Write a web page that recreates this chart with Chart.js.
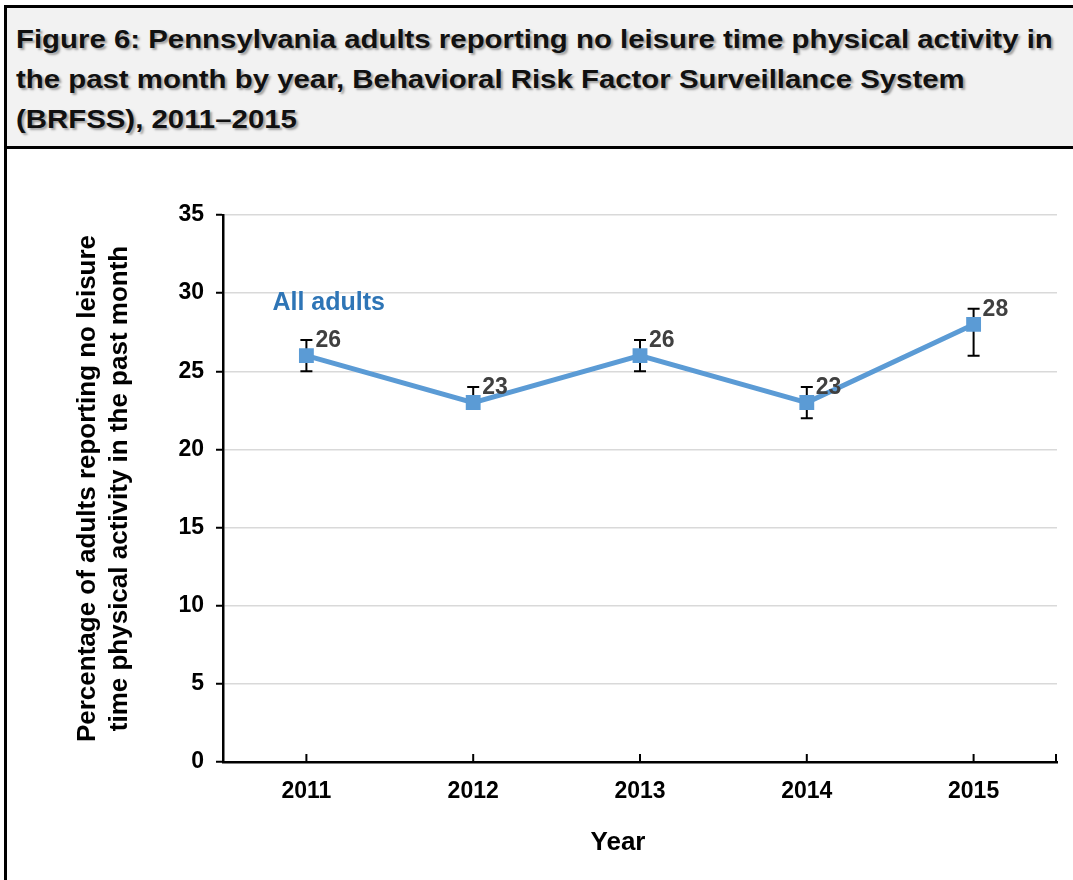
<!DOCTYPE html>
<html>
<head>
<meta charset="utf-8">
<script src="https://cdn.jsdelivr.net/npm/chart.js@4"></script>
<style>
  html, body { margin: 0; padding: 0; background: #fff; overflow: hidden; width: 1073px; height: 880px; }
  #titlebox {
    position: absolute; left: 4px; top: 5px; width: 1100px; height: 144px;
    background: #f2f2f2; border: 3px solid #000; box-sizing: border-box;
    padding: 11px 0 0 9px;
    font-family: "Liberation Sans", Arial, sans-serif; font-weight: bold; font-size: 26px;
    line-height: 40px; color: #111;
    text-shadow: 2px 2px 2px #a0a0a0;
  }
  #titlebox span { display: inline-block; transform: scaleX(1.13); transform-origin: 0 0; white-space: nowrap; }
  #frame { position: absolute; left: 4px; top: 147px; width: 3px; height: 740px; background: #000; }
  #wrap { position: absolute; left: 10px; top: 150px; width: 1063px; height: 730px; }
</style>
</head>
<body>
<div id="titlebox"><span>Figure 6: Pennsylvania adults reporting no leisure time physical activity in<br>the past month by year, Behavioral Risk Factor Surveillance System<br>(BRFSS), 2011–2015</span></div>
<div id="frame"></div>
<div id="wrap"><canvas id="c"></canvas></div>
<script>
const years = ['2011', '2012', '2013', '2014', '2015'];
const allAdults = [26, 23, 26, 23, 28];
const lowerCI = [25, 22.6, 25, 22, 26];
const upperCI = [27, 24, 27, 24, 29];
const yTicks = [0, 5, 10, 15, 20, 25, 30, 35];
const seriesName = 'All adults';
const yTitle = ['Percentage of adults reporting no leisure', 'time physical activity in the past month'];
const xTitle = 'Year';

const FONT = '"Liberation Sans", Arial, sans-serif';

const errorBars = {
  id: 'errorBars',
  beforeDatasetsDraw(chart) {
    const ctx = chart.ctx, x = chart.scales.x, y = chart.scales.y;
    ctx.save();
    ctx.strokeStyle = '#000'; ctx.lineWidth = 2;
    years.forEach((yr, i) => {
      const px = x.getPixelForValue(i);
      const top = y.getPixelForValue(upperCI[i]);
      const bot = y.getPixelForValue(lowerCI[i]);
      ctx.beginPath();
      ctx.moveTo(px, top); ctx.lineTo(px, bot);
      ctx.moveTo(px - 6, top); ctx.lineTo(px + 6, top);
      ctx.moveTo(px - 6, bot); ctx.lineTo(px + 6, bot);
      ctx.stroke();
    });
    ctx.restore();
  },
  afterDatasetsDraw(chart) {
    const ctx = chart.ctx, x = chart.scales.x, y = chart.scales.y;
    ctx.save();
    // value labels
    ctx.fillStyle = '#404040';
    ctx.font = 'bold 23px ' + FONT;
    ctx.textAlign = 'left'; ctx.textBaseline = 'middle';
    const meta = chart.getDatasetMeta(0);
    meta.data.forEach((pt, i) => {
      ctx.fillText(String(allAdults[i]), pt.x + 9, pt.y - 15);
    });
    // series label
    ctx.fillStyle = '#2e75b6';
    ctx.font = 'bold 25px ' + FONT;
    ctx.fillText(seriesName, x.getPixelForValue(0) - 34, y.getPixelForValue(29.35));
    // inward x ticks
    ctx.strokeStyle = '#000'; ctx.lineWidth = 2;
    ctx.beginPath();
    years.forEach((yr, i) => {
      const px = x.getPixelForValue(i);
      ctx.moveTo(px, x.top); ctx.lineTo(px, x.top - 8);
    });
    ctx.moveTo(x.right - 1, x.top); ctx.lineTo(x.right - 1, x.top - 8);
    ctx.stroke();
    // x title
    ctx.fillStyle = '#000';
    ctx.font = 'bold 26px ' + FONT;
    ctx.textAlign = 'center';
    ctx.fillText(xTitle, (x.left + x.right) / 2 - 22, x.top + 81);
    ctx.restore();
  }
};

new Chart(document.getElementById('c'), {
  type: 'line',
  data: {
    labels: years,
    datasets: [{
      label: seriesName,
      data: allAdults,
      borderColor: '#5b9bd5',
      backgroundColor: '#5b9bd5',
      borderWidth: 5,
      pointStyle: 'rect',
      pointRadius: 10.5,
      pointHoverRadius: 10.5,
      pointBorderWidth: 0,
      tension: 0
    }]
  },
  options: {
    responsive: true,
    maintainAspectRatio: false,
    animation: false,
    events: [],
    layout: { padding: { top: 65, right: 16, left: 0, bottom: 0 } },
    plugins: { legend: { display: false }, tooltip: { enabled: false } },
    scales: {
      x: {
        type: 'category',
        offset: true,
        afterFit(s) { s.height = 118; },
        grid: { drawOnChartArea: false, drawTicks: false },
        border: { display: true, color: '#000', width: 2.5 },
        ticks: { color: '#000', padding: 16, font: { family: FONT, size: 23, weight: 'bold' } }
      },
      y: {
        min: 0, max: 35,
        afterFit(s) { s.width = 213; },
        afterBuildTicks(s) { s.ticks = yTicks.map(v => ({ value: v })); },
        grid: { color: '#d9d9d9', lineWidth: 1.5, tickColor: '#000', tickLength: 7, tickWidth: 2 },
        border: { display: true, color: '#000', width: 2.5 },
        ticks: { color: '#000', padding: 12, font: { family: FONT, size: 23, weight: 'bold' } },
        title: {
          display: true, text: yTitle, color: '#000',
          font: { family: FONT, size: 26, weight: 'bold', lineHeight: 1.23 },
          padding: { top: 62, bottom: 0 }
        }
      }
    }
  },
  plugins: [errorBars]
});
</script>
</body>
</html>
